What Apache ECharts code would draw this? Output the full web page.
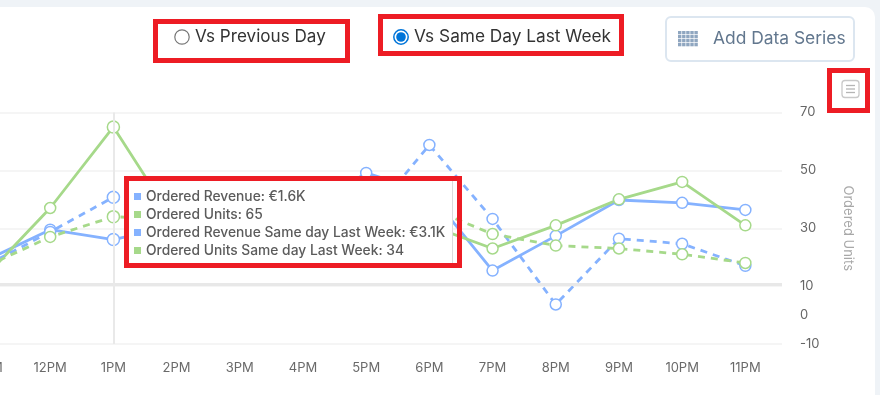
<!DOCTYPE html>
<html><head><meta charset="utf-8">
<style>
html,body{margin:0;padding:0;width:880px;height:395px;overflow:hidden;background:#eff3f7}
#card{position:absolute;left:-20px;top:7px;width:895px;height:400px;background:#fff;border-radius:10px}
#chart{position:absolute;left:0;top:0;width:880px;height:395px}
</style>
<script src="https://cdn.jsdelivr.net/npm/echarts@6/dist/echarts.min.js"></script>
</head><body>
<div id="card"></div>
<div id="chart"></div>
<script>
const categories = ['11AM','12PM','1PM','2PM','3PM','4PM','5PM','6PM','7PM','8PM','9PM','10PM','11PM'];
const orderedRevenue = [880,1950,1600,2100,1800,2500,3960,3250,500,1730,3000,2900,2650];
const orderedUnits = [14,37,65,31,30,28,33,31,23,31,40,46,31];
const revenueLastWeek = [700,1870,3100,1900,2100,2600,2250,4950,2330,-700,1630,1450,670];
const unitsLastWeek = [17,27,34,33,32,35,36,37,28,24,23,21,18];
const unitTicks = [-10,0,10,30,50,70];
const FONT = 'Inter';
const BLUE = '#85b2ff', GREEN = '#a6d98a', RED = '#ed1c24', INK = '#5b5b5b';

const pairs = v => v.map((y, i) => [i, y]);
const line = (name, values, color, yAxisIndex, dashed, extra) => Object.assign({
  name, type: 'line', yAxisIndex, data: pairs(values), symbol: 'circle', symbolSize: 11,
  showAllSymbol: true, animation: false,
  lineStyle: { color, width: 2.8, type: dashed ? [7, 6] : 'solid' },
  itemStyle: { color: '#fff', borderColor: color, borderWidth: 1.5 },
  emphasis: { disabled: true }
}, extra || {});

const box = (x, y, w, h) => ({ type: 'rect', z: 100, silent: true, shape: { x, y, width: w, height: h },
  style: { fill: 'none', stroke: RED, lineWidth: 5 } });
const label = (text, x, y, size, fill) => ({ type: 'text', z: 90, silent: true, x, y,
  style: { text, fill, font: size + 'px ' + FONT, textVerticalAlign: 'middle' } });

const gridIcon = [];
for (let r = 0; r < 4; r++) for (let c = 0; c < 5; c++)
  gridIcon.push({ type: 'rect', z: 90, silent: true, shape: { x: 678 + c * 4.1, y: 31 + r * 4, width: 3.4, height: 3.3 }, style: { fill: '#8fa6c0' } });

const chart = echarts.init(document.getElementById('chart'), null, { renderer: 'canvas' });
chart.setOption({
  animation: false,
  backgroundColor: 'transparent',
  textStyle: { fontFamily: FONT },
  grid: { left: -13, right: 98, top: 112.5, bottom: 51, containLabel: false, outerBoundsMode: 'none' },
  xAxis: {
    type: 'value', min: 0, max: 12.58, interval: 1,
    axisLine: { show: false }, axisTick: { show: false }, splitLine: { show: false },
    axisLabel: { color: '#6a6a6a', fontSize: 13, fontFamily: FONT, margin: 18, showMinLabel: true, showMaxLabel: false,
      formatter: v => categories[v] || '' }
  },
  yAxis: [
    { type: 'value', show: false, min: -2100, max: 6100, splitLine: { show: false } },
    { type: 'value', position: 'right', min: -10, max: 70, interval: 20,
      name: 'Ordered Units', nameLocation: 'middle', nameRotate: -90, nameGap: 59,
      nameTextStyle: { color: '#a8a8a8', fontSize: 13, fontFamily: FONT },
      axisLine: { show: false }, axisTick: { show: false },
      axisLabel: { color: '#666', fontSize: 13, fontFamily: FONT, margin: 18, customValues: unitTicks },
      splitLine: { lineStyle: { color: '#f2f2f2', width: 1.5 } } }
  ],
  tooltip: {
    trigger: 'axis', triggerOn: 'none', alwaysShowContent: true, transitionDuration: 0,
    position: [124, 176], padding: 0, borderWidth: 0, backgroundColor: 'transparent', confine: false,
    extraCssText: 'box-shadow:none;border-radius:0;',
    axisPointer: { type: 'line', lineStyle: { color: '#e9e9e9', width: 2, type: 'solid' } },
    formatter: ps => {
      const euro = v => '€' + (v / 1000).toFixed(1) + 'K';
      const rows = ps.map(p => {
        const v = p.value[1];
        const txt = p.seriesName + ': ' + (p.seriesName.indexOf('Revenue') >= 0 ? euro(v) : v);
        const c = p.seriesName.indexOf('Revenue') >= 0 ? BLUE : GREEN;
        return '<div style="height:18px;line-height:18px;white-space:nowrap"><span style="display:inline-block;width:7px;height:7px;background:' + c + ';margin-right:5px;vertical-align:1px"></span>' + txt + '</div>';
      }).join('');
      return '<div style="box-sizing:border-box;width:338px;height:92px;border:5px solid ' + RED + ';background:transparent;font:500 13.8px ' + FONT + ';color:' + INK + ';position:relative">' +
        '<div style="box-sizing:border-box;position:absolute;left:0;top:0;bottom:0;width:324px;background:#fff;border-right:1px solid #dcdcdc;padding:6px 0 0 5px">' + rows + '</div></div>';
    }
  },
  series: [
    line('Ordered Revenue', orderedRevenue, BLUE, 0, false, {
      markLine: { silent: true, symbol: 'none', animation: false, label: { show: false },
        lineStyle: { color: '#e8e8e8', width: 3, type: 'solid' }, data: [{ yAxis: 0 }] } }),
    line('Ordered Units', orderedUnits, GREEN, 1, false),
    line('Ordered Revenue Same day Last Week', revenueLastWeek, BLUE, 0, true),
    line('Ordered Units Same day Last Week', unitsLastWeek, GREEN, 1, true)
  ],
  graphic: [
    { type: 'circle', z: 90, silent: true, shape: { cx: 182, cy: 37, r: 7.2 }, style: { fill: '#fff', stroke: '#767676', lineWidth: 1.2 } },
    label('Vs Previous Day', 195, 37, 17.1, '#333'),
    { type: 'circle', z: 90, silent: true, shape: { cx: 401, cy: 37, r: 7.2 }, style: { fill: '#fff', stroke: '#0075d9', lineWidth: 1.5 } },
    { type: 'circle', z: 91, silent: true, shape: { cx: 401, cy: 37, r: 4.8 }, style: { fill: '#0075d9' } },
    label('Vs Same Day Last Week', 414, 37, 17.25, '#333'),
    { type: 'rect', z: 80, silent: true, shape: { x: 666, y: 17, width: 188, height: 44, r: 5 }, style: { fill: '#fff', stroke: '#dce6f0', lineWidth: 2 } },
    ...gridIcon,
    label('Add Data Series', 713, 39, 17.4, '#62778e'),
    { type: 'rect', z: 90, silent: true, shape: { x: 842, y: 80.5, width: 17, height: 17, r: 3 }, style: { fill: '#fff', stroke: '#c9c9c9', lineWidth: 1.3 } },
    ...[85.5, 89, 92.5].map(y => ({ type: 'line', z: 91, silent: true, shape: { x1: 846, y1: y, x2: 855, y2: y }, style: { stroke: '#b5b5b5', lineWidth: 1.3 } })),
    box(155.5, 21.5, 192, 39),
    box(380.5, 16.5, 241, 37),
    box(829.5, 70.5, 38, 40)
  ]
});
chart.dispatchAction({ type: 'showTip', seriesIndex: 0, dataIndex: 2 });
</script>
</body></html>
